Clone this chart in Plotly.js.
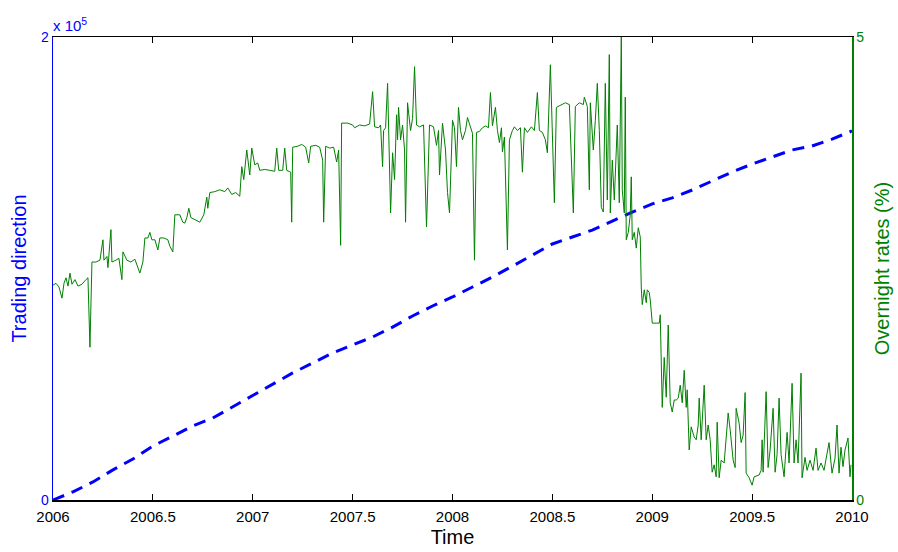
<!DOCTYPE html>
<html>
<head>
<meta charset="utf-8">
<script src="https://cdn.plot.ly/plotly-3.0.1.min.js"></script>
<style>html,body{margin:0;padding:0;background:#fff}#chart{width:898px;height:552px}</style>
</head>
<body>
<div id="chart"></div>
<script>
// Trading direction (cumulative), left axis
const tradeTime = [2006.0,2006.1,2006.2,2006.3,2006.4,2006.5,2006.6,2006.7,2006.8,2006.9,
  2007.0,2007.1,2007.2,2007.3,2007.4,2007.5,2007.6,2007.7,2007.8,2007.9,
  2008.0,2008.1,2008.2,2008.3,2008.4,2008.5,2008.6,2008.7,2008.8,2008.9,
  2009.0,2009.1,2009.2,2009.3,2009.4,2009.5,2009.6,2009.7,2009.8,2009.9,2010.0];
const tradeValue = [0,3500,7800,13000,17700,23300,27600,32000,35400,40200,
  45000,50000,54900,59200,63500,67000,70400,74700,79500,83800,
  87700,92000,96300,101000,105800,110600,113600,116600,120500,124400,
  127900,130500,133900,137800,141700,145100,148200,151200,152900,155900,159400];

// Overnight rates (%), right axis
const rateTime = [2006.000,2006.015,2006.030,2006.045,2006.055,2006.065,2006.075,2006.085,2006.095,2006.110,
  2006.125,2006.145,2006.165,2006.175,2006.185,2006.195,2006.215,2006.235,2006.250,2006.255,
  2006.270,2006.275,2006.290,2006.295,2006.315,2006.330,2006.345,2006.350,2006.370,2006.390,
  2006.410,2006.425,2006.435,2006.450,2006.460,2006.475,2006.485,2006.495,2006.510,2006.525,
  2006.535,2006.555,2006.575,2006.585,2006.600,2006.610,2006.635,2006.650,2006.660,2006.670,
  2006.680,2006.690,2006.715,2006.735,2006.755,2006.770,2006.775,2006.785,2006.810,2006.835,
  2006.860,2006.875,2006.895,2006.915,2006.935,2006.945,2006.955,2006.970,2006.985,2006.995,
  2007.010,2007.025,2007.035,2007.060,2007.085,2007.110,2007.120,2007.130,2007.150,2007.160,
  2007.170,2007.190,2007.195,2007.200,2007.225,2007.245,2007.265,2007.280,2007.290,2007.315,
  2007.335,2007.350,2007.355,2007.365,2007.385,2007.405,2007.420,2007.430,2007.440,2007.445,
  2007.475,2007.500,2007.510,2007.535,2007.560,2007.585,2007.600,2007.610,2007.630,2007.640,
  2007.650,2007.655,2007.665,2007.675,2007.690,2007.700,2007.710,2007.720,2007.725,2007.730,
  2007.740,2007.750,2007.760,2007.765,2007.775,2007.790,2007.800,2007.810,2007.820,2007.835,
  2007.855,2007.870,2007.885,2007.905,2007.920,2007.930,2007.935,2007.950,2007.965,2007.975,
  2007.985,2008.000,2008.010,2008.020,2008.030,2008.040,2008.050,2008.065,2008.075,2008.085,
  2008.100,2008.110,2008.120,2008.135,2008.150,2008.165,2008.180,2008.190,2008.200,2008.215,
  2008.225,2008.235,2008.245,2008.250,2008.260,2008.275,2008.285,2008.300,2008.310,2008.325,
  2008.340,2008.350,2008.360,2008.375,2008.395,2008.410,2008.425,2008.435,2008.450,2008.465,
  2008.475,2008.490,2008.500,2008.510,2008.520,2008.545,2008.565,2008.585,2008.605,2008.615,
  2008.635,2008.655,2008.660,2008.675,2008.685,2008.690,2008.705,2008.715,2008.725,2008.735,
  2008.745,2008.755,2008.765,2008.775,2008.785,2008.790,2008.800,2008.810,2008.825,2008.835,
  2008.845,2008.850,2008.860,2008.865,2008.870,2008.880,2008.890,2008.895,2008.900,2008.910,
  2008.920,2008.930,2008.940,2008.945,2008.950,2008.960,2008.970,2008.975,2008.985,2008.990,
  2009.000,2009.020,2009.035,2009.040,2009.050,2009.060,2009.070,2009.080,2009.090,2009.100,
  2009.110,2009.120,2009.130,2009.140,2009.150,2009.160,2009.170,2009.175,2009.185,2009.195,
  2009.210,2009.220,2009.230,2009.235,2009.245,2009.260,2009.270,2009.280,2009.290,2009.300,
  2009.310,2009.320,2009.325,2009.335,2009.345,2009.360,2009.370,2009.380,2009.390,2009.400,
  2009.405,2009.415,2009.420,2009.435,2009.445,2009.455,2009.465,2009.470,2009.485,2009.500,
  2009.510,2009.535,2009.545,2009.550,2009.555,2009.570,2009.580,2009.590,2009.605,2009.615,
  2009.625,2009.635,2009.645,2009.660,2009.675,2009.685,2009.700,2009.710,2009.720,2009.730,
  2009.745,2009.750,2009.765,2009.775,2009.790,2009.805,2009.820,2009.830,2009.845,2009.860,
  2009.875,2009.885,2009.900,2009.915,2009.925,2009.935,2009.945,2009.955,2009.965,2009.980,
  2009.990,2009.995];
const rateValue = [2.32,2.34,2.30,2.18,2.34,2.40,2.31,2.45,2.33,2.38,
  2.31,2.33,2.38,2.40,1.65,2.57,2.57,2.59,2.81,2.59,
  2.63,2.51,2.92,2.57,2.59,2.61,2.38,2.68,2.59,2.57,
  2.60,2.51,2.45,2.57,2.83,2.83,2.89,2.81,2.81,2.70,
  2.83,2.83,2.81,2.74,2.68,3.08,3.08,3.00,2.99,3.05,
  3.15,3.05,3.02,3.00,3.08,3.27,3.15,3.32,3.33,3.35,
  3.33,3.37,3.30,3.32,3.28,3.60,3.46,3.78,3.51,3.80,
  3.62,3.64,3.56,3.57,3.56,3.55,3.80,3.56,3.56,3.80,
  3.56,3.54,3.00,3.81,3.82,3.84,3.81,3.64,3.82,3.83,
  3.81,3.67,3.00,3.82,3.80,3.81,3.65,3.78,2.75,4.07,
  4.07,4.05,4.02,4.05,4.04,4.06,4.41,4.03,4.02,4.05,
  3.60,3.99,4.02,4.50,3.10,3.75,3.46,4.16,3.89,4.24,
  3.89,4.05,3.78,3.00,4.29,3.99,4.12,4.68,4.05,4.03,
  4.05,2.95,4.05,4.03,3.83,3.99,3.51,4.07,3.78,3.32,
  3.10,4.10,4.02,3.60,4.24,3.99,3.89,3.99,4.13,4.05,
  3.96,2.59,3.97,3.98,4.02,4.04,4.02,4.40,4.04,4.24,
  3.99,3.86,4.02,3.76,3.92,2.70,3.89,3.99,4.03,3.99,
  4.02,3.54,4.02,3.97,4.03,3.99,4.40,3.99,3.97,3.89,
  3.75,4.70,3.89,3.21,4.24,4.27,4.29,4.27,3.10,4.25,
  4.29,4.27,4.35,4.25,3.35,4.29,3.78,4.10,4.50,3.99,
  3.16,3.11,4.50,3.24,4.81,3.10,3.67,3.24,4.05,3.21,
  5.00,3.35,3.10,4.35,2.81,2.89,3.08,3.49,2.81,2.89,
  2.72,2.94,2.84,2.30,2.11,2.27,2.13,2.27,2.24,2.16,
  1.91,1.91,1.91,2.00,1.00,1.54,1.11,1.89,1.05,0.95,
  1.08,1.08,1.10,1.24,1.05,1.40,1.00,1.19,0.54,0.79,
  0.68,0.65,0.81,1.10,0.65,1.24,0.65,0.81,0.65,0.30,
  0.38,0.25,0.84,0.24,0.43,0.40,0.65,0.94,0.76,0.51,
  0.43,0.35,0.99,0.83,0.62,0.70,1.16,0.29,0.24,0.16,
  0.25,0.27,0.32,0.65,0.30,1.17,0.35,0.54,0.99,0.30,
  0.49,1.10,0.49,0.25,0.73,0.40,1.26,0.40,0.65,0.40,
  1.37,0.24,0.46,0.32,0.43,0.32,0.56,0.32,0.40,0.32,
  0.49,0.62,0.29,0.45,0.81,0.29,0.57,0.36,0.54,0.67,
  0.25,0.38];

const xTickVals = [2006,2006.5,2007,2007.5,2008,2008.5,2009,2009.5,2010];
const xTickText = ['2006','2006.5','2007','2007.5','2008','2008.5','2009','2009.5','2010'];
const leftTickVals = [0,200000];
const leftTickText = ['0','2'];
const rightTickVals = [0,5];
const rightTickText = ['0','5'];

const BLUE = '#0000ff';
const GREEN = '#008000';
const FONT = 'Liberation Sans, Arial, sans-serif';

const traces = [
  {x: tradeTime, y: tradeValue, type: 'scatter', mode: 'lines', yaxis: 'y',
   line: {color: BLUE, width: 3, dash: '12px,8px'}, hoverinfo: 'skip'},
  {x: rateTime, y: rateValue, type: 'scatter', mode: 'lines', yaxis: 'y2',
   line: {color: GREEN, width: 1}, hoverinfo: 'skip'}
];

const layout = {
  width: 898, height: 552,
  margin: {l: 53, r: 46, t: 37, b: 52},
  paper_bgcolor: '#fff', plot_bgcolor: '#fff',
  showlegend: false,
  font: {family: FONT, size: 14, color: '#000'},
  xaxis: {
    range: [2006, 2010], tickvals: xTickVals, ticktext: xTickText,
    ticks: 'inside', ticklen: 6, tickcolor: '#000', tickwidth: 1,
    showline: true, linecolor: '#000', linewidth: 1.5, mirror: 'ticks',
    showgrid: false, zeroline: false, ticklabelstandoff: 2,
    tickfont: {family: FONT, size: 15, color: '#000'},
    title: {text: 'Time', font: {family: FONT, size: 20, color: '#000'}, standoff: 6}
  },
  yaxis: {
    range: [0, 200000], tickvals: leftTickVals, ticktext: leftTickText,
    ticks: 'inside', ticklen: 5, tickcolor: BLUE,
    showline: true, linecolor: BLUE, linewidth: 1.5,
    showgrid: false, zeroline: false,
    tickfont: {family: FONT, size: 14, color: BLUE},
    title: {text: 'Trading direction', font: {family: FONT, size: 20, color: BLUE}, standoff: 9}
  },
  yaxis2: {
    range: [0, 5], tickvals: rightTickVals, ticktext: rightTickText,
    overlaying: 'y', side: 'right',
    ticks: 'inside', ticklen: 5, tickcolor: GREEN,
    showline: true, linecolor: GREEN, linewidth: 1.5,
    showgrid: false, zeroline: false,
    tickfont: {family: FONT, size: 14, color: GREEN},
    title: {text: 'Overnight rates (%)', font: {family: FONT, size: 20, color: GREEN}, standoff: 11}
  },
  annotations: [
    {xref: 'paper', yref: 'paper', x: 0, y: 1, xanchor: 'left', yanchor: 'bottom',
     yshift: 1, xshift: -2, showarrow: false, text: 'x 10<sup>5</sup>',
     font: {family: FONT, size: 15, color: BLUE}}
  ]
};

Plotly.newPlot('chart', traces, layout, {displayModeBar: false, staticPlot: true});
</script>
</body>
</html>
